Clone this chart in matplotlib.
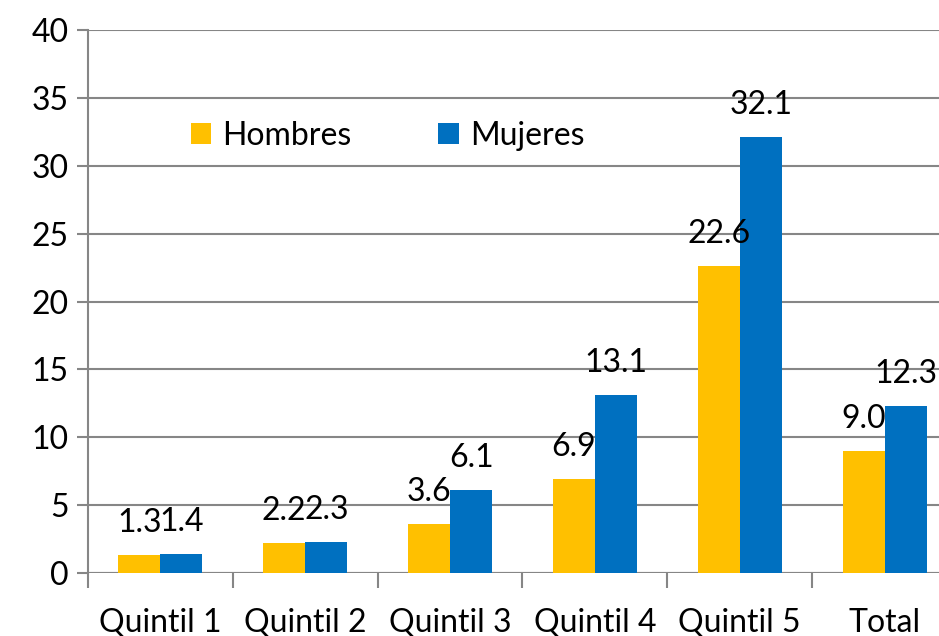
import numpy as np
import matplotlib
matplotlib.use("Agg")
import matplotlib.pyplot as plt

plt.rcParams['font.family'] = ['Lato', 'DejaVu Sans']

# datos del grafico
categorias = ["Quintil 1", "Quintil 2", "Quintil 3", "Quintil 4", "Quintil 5", "Total"]
hombres = [1.3, 2.2, 3.6, 6.9, 22.6, 9.0]
mujeres = [1.4, 2.3, 6.1, 13.1, 32.1, 12.3]
y_ticks = [0, 5, 10, 15, 20, 25, 30, 35, 40]

color_h = "#FFC000"
color_m = "#0070C0"
gris = "#868686"
fs = 23

fig = plt.figure(figsize=(9.39, 6.36), dpi=100)
ax = fig.add_axes([88 / 939, 63 / 636, 869 / 939, 543 / 636])

x = np.arange(len(categorias))
w = 0.29
b1 = ax.bar(x - w / 2, hombres, w, color=color_h, label="Hombres", zorder=3)
b2 = ax.bar(x + w / 2, mujeres, w, color=color_m, label="Mujeres", zorder=3)

# etiquetas de valores
for barras, vals in ((b1, hombres), (b2, mujeres)):
    for r, v in zip(barras, vals):
        ax.annotate(f"{v:.1f}", (r.get_x() + r.get_width() / 2, v),
                    xytext=(0, 16.5), textcoords="offset points",
                    ha="center", va="baseline", fontsize=fs, zorder=4)

ax.set_xlim(-0.5, len(categorias) - 0.5)
ax.set_ylim(0, 40)
ax.set_yticks(y_ticks)
ax.yaxis.grid(True, color=gris, linewidth=1.5, zorder=0)
ax.tick_params(axis="y", labelsize=fs, color=gris, width=1.5, length=8, pad=6)

# ticks del eje x entre categorias
ax.set_xticks(np.arange(-0.5, len(categorias), 1))
ax.set_xticklabels([])
ax.set_xticks(x, minor=True)
ax.set_xticklabels(categorias, minor=True, fontsize=fs)
ax.tick_params(axis="x", which="major", color=gris, width=1.5, length=11)
ax.tick_params(axis="x", which="minor", length=0, pad=25)

for s in ["top", "right", "bottom"]:
    ax.spines[s].set_visible(False)
ax.spines["left"].set_color(gris)
ax.spines["left"].set_linewidth(1.5)
ax.axhline(0, color=gris, linewidth=1.5, zorder=2)

ax.legend(loc="center left", bbox_to_anchor=(0.085, 0.805), ncol=2, frameon=False,
          fontsize=fs, handlelength=0.65, handleheight=0.65, handletextpad=0.35,
          columnspacing=2.7)

fig.savefig("out.png", dpi=100)
